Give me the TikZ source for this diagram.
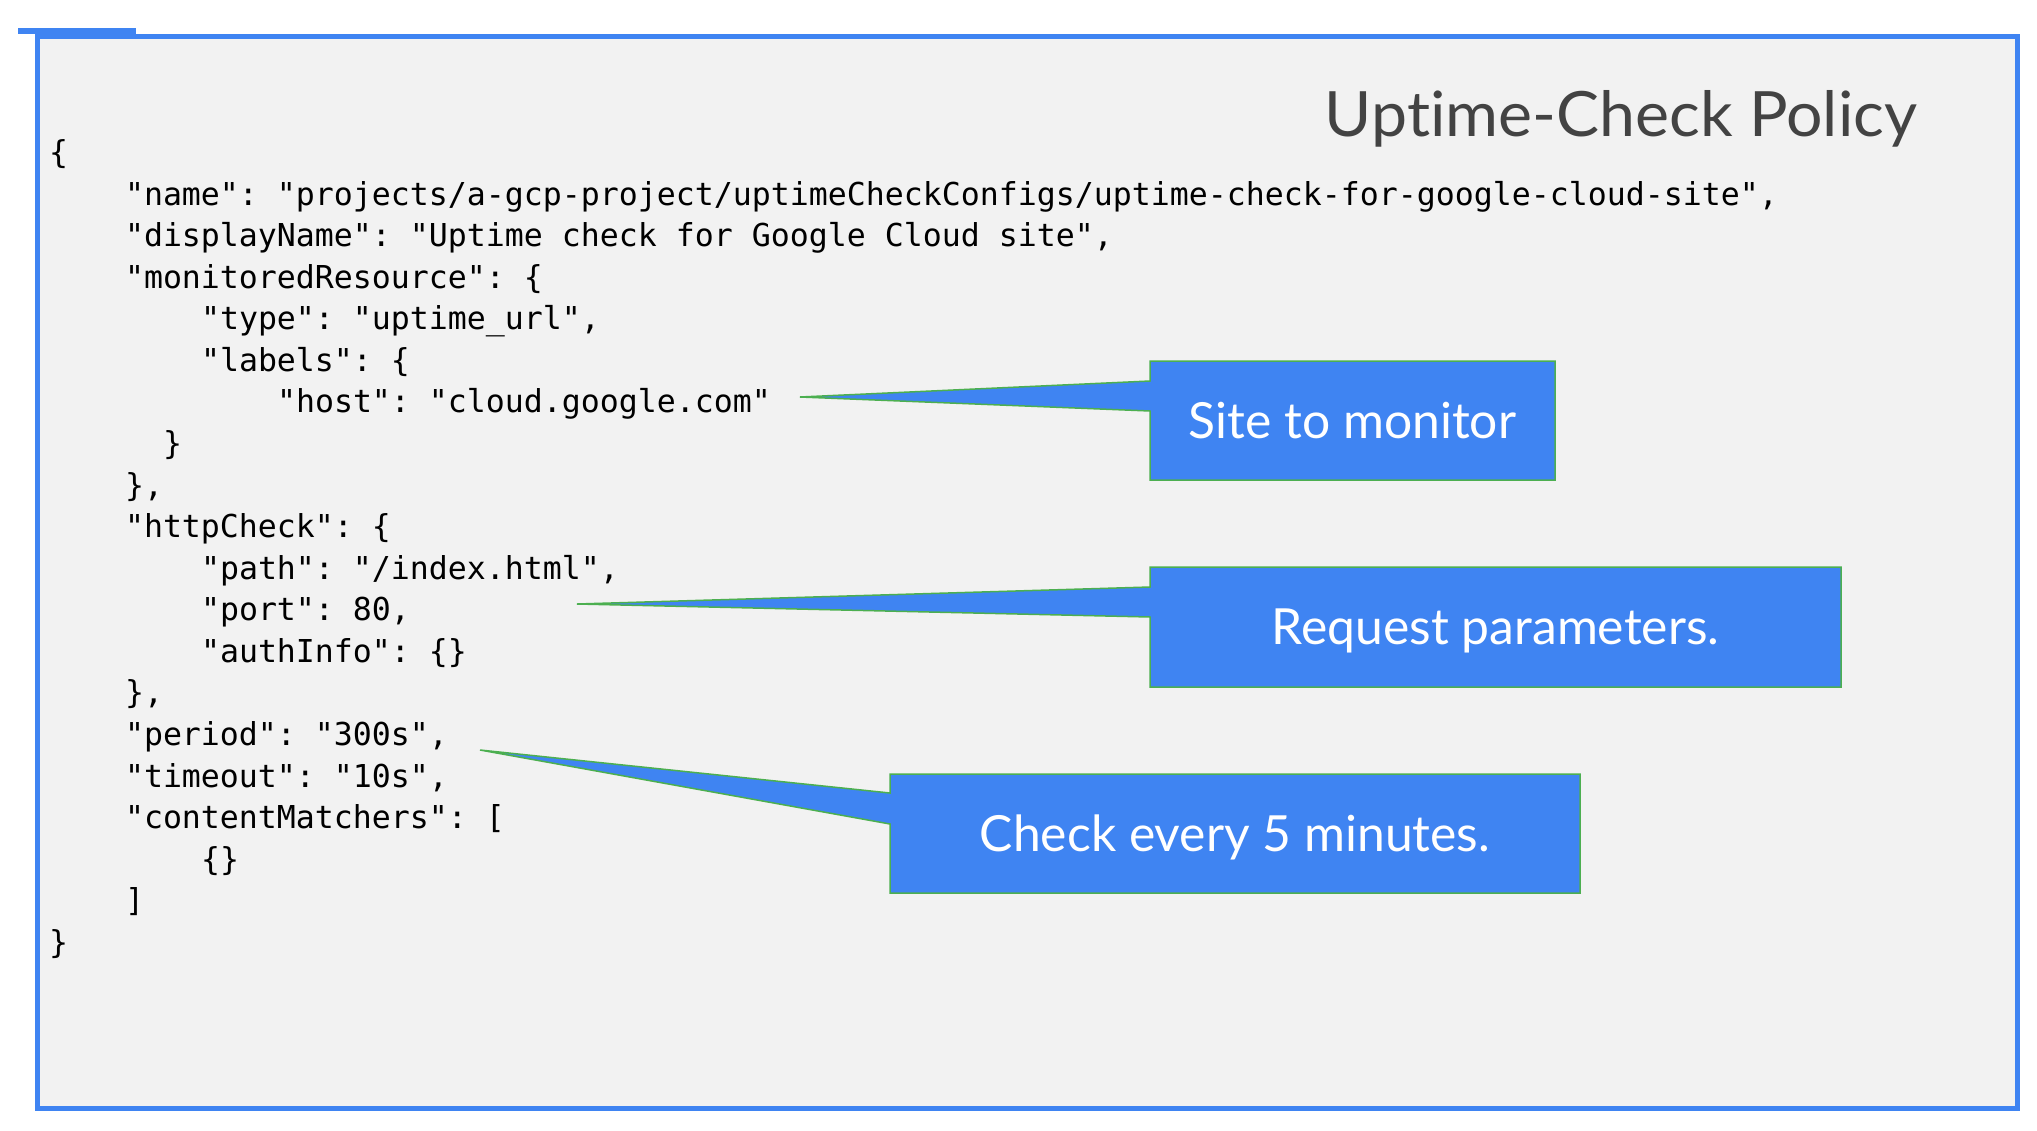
\documentclass[tikz,border=0pt]{standalone}
\usepackage{fontspec}
\usetikzlibrary{calc}
\newfontfamily\codefont{DejaVu Sans Mono}
\newfontfamily\gfont[Ligatures={NoCommon}]{Lato}
\newfontfamily\gtfont[Ligatures={NoCommon},FakeStretch=1.03]{Lato}
\definecolor{gblue}{HTML}{3F84F2}
\definecolor{gback}{HTML}{F2F2F2}
\definecolor{ggreen}{HTML}{4CAF50}
\definecolor{gtitle}{HTML}{434343}
\pgfdeclarelayer{background}
\pgfsetlayers{background,main}
\tikzset{
  code/.style={anchor=base west, inner sep=0pt, outer sep=0pt,
    font=\codefont\fontsize{31.56}{41.57}\selectfont\frenchspacing, text=black},
  calloutbox/.style={anchor=north west, inner sep=0pt, outer sep=0pt,
    text=white, font=\gfont\fontsize{49.8}{55}\selectfont,
    text height=35pt, text depth=0pt},
  callfill/.style={fill=gblue, draw=ggreen, line width=1.5pt, line join=miter},
  frame/.style={draw=gblue, fill=gback, line width=5pt}
}
\begin{document}
\begin{tikzpicture}[x=1pt, y=-1pt]
\useasboundingbox (0,0) rectangle (2037,1130);
\begin{pgfonlayer}{background}
  \draw[frame] (37.5,36.5) rectangle (2017,1108.5);
  \fill[gblue] (18,28) rectangle (136,34);
\end{pgfonlayer}

% title
\node[anchor=base, inner sep=0pt, text=gtitle, font=\gtfont\fontsize{62.5}{70}\selectfont] (title) at (1621,136) {Uptime-Check Policy};

% code lines
\def\cx#1{49+19*#1}
\node[code] (l0)  at ({\cx{0}},163.5)  {\{};
\node[code] (l1)  at ({\cx{4}},205.07) {"name": "projects/a-gcp-project/uptimeCheckConfigs/uptime-check-for-google-cloud-site",};
\node[code] (l2)  at ({\cx{4}},246.64) {"displayName": "Uptime check for Google Cloud site",};
\node[code] (l3)  at ({\cx{4}},288.21) {"monitoredResource": \{};
\node[code] (l4)  at ({\cx{8}},329.78) {"type": "uptime\_url",};
\node[code] (l5)  at ({\cx{8}},371.35) {"labels": \{};
\node[code] (l6)  at ({\cx{12}},412.92) {"host": "cloud.google.com"};
\node[code] (l7)  at ({\cx{6}},454.49) {\}};
\node[code] (l8)  at ({\cx{4}},496.06) {\},};
\node[code] (l9)  at ({\cx{4}},537.63) {"httpCheck": \{};
\node[code] (l10) at ({\cx{8}},579.2)  {"path": "/index.html",};
\node[code] (l11) at ({\cx{8}},620.77) {"port": 80,};
\node[code] (l12) at ({\cx{8}},662.34) {"authInfo": \{\}};
\node[code] (l13) at ({\cx{4}},703.91) {\},};
\node[code] (l14) at ({\cx{4}},745.48) {"period": "300s",};
\node[code] (l15) at ({\cx{4}},787.05) {"timeout": "10s",};
\node[code] (l16) at ({\cx{4}},828.62) {"contentMatchers": [};
\node[code] (l17) at ({\cx{8}},870.19) {\{\}};
\node[code] (l18) at ({\cx{4}},911.76) {]};
\node[code] (l19) at ({\cx{0}},953.33) {\}};

% callout boxes
\node[calloutbox, minimum width=405pt, minimum height=119pt] (b1) at (1150,361) {Site to monitor};
\node[calloutbox, minimum width=691pt, minimum height=120pt] (b2) at (1150,567) {Request parameters.};
\node[calloutbox, minimum width=690pt, minimum height=119pt] (b3) at (890,774) {Check every 5 minutes.};

% pointer tips
\coordinate (t1) at (800,397);
\coordinate (t2) at (577,604);
\coordinate (t3) at (480,750);

\begin{pgfonlayer}{background}
  \draw[callfill] (t1) -- ($(b1.north west)+(0,20)$) -- (b1.north west) -- (b1.north east)
    -- (b1.south east) -- (b1.south west) -- ($(b1.north west)+(0,50)$) -- cycle;
  \draw[callfill] (t2) -- ($(b2.north west)+(0,20)$) -- (b2.north west) -- (b2.north east)
    -- (b2.south east) -- (b2.south west) -- ($(b2.north west)+(0,50)$) -- cycle;
  \draw[callfill] (t3) -- ($(b3.north west)+(0,19)$) -- (b3.north west) -- (b3.north east)
    -- (b3.south east) -- (b3.south west) -- ($(b3.north west)+(0,50)$) -- cycle;
\end{pgfonlayer}
\end{tikzpicture}
\end{document}
